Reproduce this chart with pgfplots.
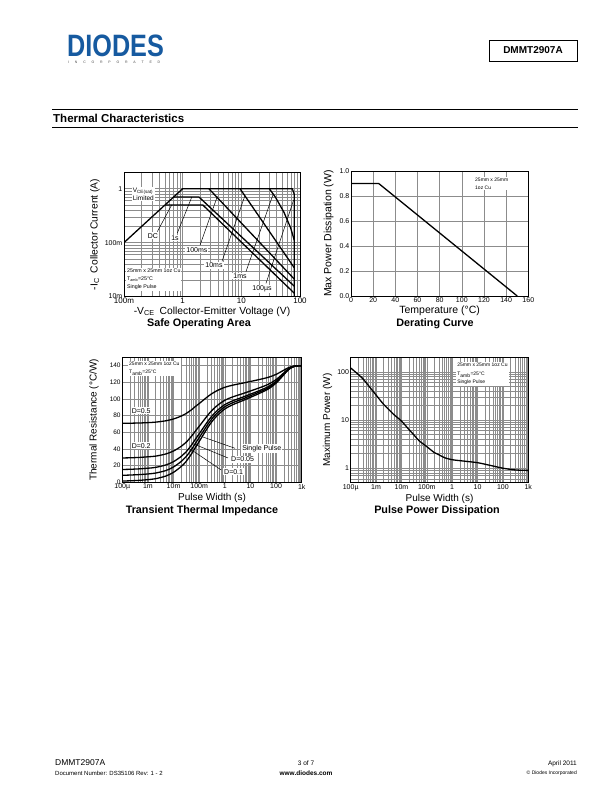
\documentclass[border=0pt]{standalone}
\usepackage{fontspec}
\setmainfont{Liberation Sans}
\usepackage{graphicx}
\usepackage{pgfplots}
\pgfplotsset{compat=1.18}
\definecolor{diodesblue}{RGB}{22,90,160}

\pgfplotsset{
  dsheet/.style={
    scale only axis,
    anchor=south west,
    axis line style={line width=0.9pt},
    major tick length=0pt, minor tick length=0pt,
    /pgf/number format/assume math mode=true,
    ticklabel style={font=\fontsize{7}{8}\selectfont, inner sep=1.5pt},
    label style={font=\fontsize{10}{11}\selectfont},
    major grid style={draw=black!45, line width=0.45pt},
    minor grid style={draw=black!45, line width=0.45pt},
  },
  logminorx/.style={minor xtick={2e-4,3e-4,4e-4,5e-4,6e-4,7e-4,8e-4,9e-4,2e-3,3e-3,4e-3,5e-3,6e-3,7e-3,8e-3,9e-3,0.02,0.03,0.04,0.05,0.06,0.07,0.08,0.09,0.2,0.3,0.4,0.5,0.6,0.7,0.8,0.9,2,3,4,5,6,7,8,9,20,30,40,50,60,70,80,90,200,300,400,500,600,700,800,900}},
}
\tikzset{
  curve/.style={line width=1.3pt, black, line join=round},
  ptr/.style={line width=0.5pt, black},
  lab/.style={fill=white, inner sep=1pt, font=\fontsize{7}{8}\selectfont},
  note/.style={fill=white, inner sep=1pt, align=left, font=\fontsize{5}{8}\selectfont},
}

\begin{document}
\begin{tikzpicture}[x=1pt,y=1pt]
\useasboundingbox[fill=white] (0,0) rectangle (612,792);

% ---------- header ----------
\node[anchor=south west, inner sep=0, text=diodesblue] at (67,735)
  {\scalebox{0.84}[1.03]{\fontsize{30}{30}\selectfont\bfseries DIODES}};
\node[anchor=base west, inner sep=0, text=black!70] at (68,728.5)
  {\fontsize{3.5}{4}\selectfont\makebox[92pt][s]{I N C O R P O R A T E D}};
\node[draw, line width=0.9pt, minimum width=88pt, minimum height=21pt, inner sep=0,
      font=\fontsize{10}{12}\selectfont\bfseries] at (533,741.5) {DMMT2907A};
\draw[line width=0.8pt] (52,683) -- (578,683);
\node[anchor=base west, inner sep=0, font=\fontsize{11.5}{12}\selectfont\bfseries] at (53,669.3) {Thermal Characteristics};
\draw[line width=0.8pt] (52,664.5) -- (578,664.5);

% ---------- footer ----------
\node[anchor=base west, inner sep=0, font=\fontsize{8.5}{9}\selectfont] at (55,26) {DMMT2907A};
\node[anchor=base west, inner sep=0, font=\fontsize{6}{7}\selectfont] at (55,16.5) {Document Number: DS35106 Rev: 1 - 2};
\node[anchor=base, inner sep=0, font=\fontsize{6.5}{7}\selectfont] at (306,26) {3 of 7};
\node[anchor=base, inner sep=0, font=\fontsize{6.5}{7}\selectfont\bfseries] at (306,16.5) {www.diodes.com};
\node[anchor=base east, inner sep=0, font=\fontsize{6.5}{7}\selectfont] at (577,26) {April 2011};
\node[anchor=base east, inner sep=0, font=\fontsize{5}{6}\selectfont] at (577,17) {© Diodes Incorporated};

% ---------- Safe Operating Area ----------
\begin{axis}[dsheet, at={(124pt,495.5pt)}, width=176pt, height=124pt,
  xmode=log, ymode=log, xmin=0.1, xmax=100, ymin=0.01, ymax=2,
  xtick={0.1,1,10,100}, xticklabels={100m,1,10,100},
  ytick={0.01,0.1,1}, yticklabels={10m,100m,1},
  xticklabel style={font=\fontsize{8}{9}\selectfont},
  minor xtick={0.2,0.3,0.4,0.5,0.6,0.7,0.8,0.9,2,3,4,5,6,7,8,9,20,30,40,50,60,70,80,90},
  minor ytick={0.02,0.03,0.04,0.05,0.06,0.07,0.08,0.09,0.2,0.3,0.4,0.5,0.6,0.7,0.8,0.9,2},
  grid=both,
  label style={font=\fontsize{10.3}{11}\selectfont},
  xlabel={-V\textsubscript{CE}\enspace Collector-Emitter Voltage (V)},
  xlabel style={yshift=2pt},
  ylabel={-I\textsubscript{C}\enspace Collector Current (A)},
]
\addplot[curve] coordinates {(0.1,0.1)(1,1)(74,1)(80,0.78)(80,0.01)};
\addplot[curve] coordinates {(0.5,0.5)(2.2,0.5)(80,0.0115)};
\addplot[curve] coordinates {(0.7,0.7)(1.9,0.7)(80,0.0155)};
\addplot[curve] coordinates {(2.8,1)(80,0.021)};
\addplot[curve] coordinates {(9.5,1)(80,0.034)};
\addplot[curve] coordinates {(30,1)(38,0.7)(53,0.37)(69,0.19)(80,0.11)};
\draw[ptr] (axis cs:0.37,0.16) -- (axis cs:0.65,0.5);
\draw[ptr] (axis cs:0.81,0.15) -- (axis cs:1.43,0.7);
\draw[ptr] (axis cs:1.98,0.09) -- (axis cs:3.9,0.72);
\draw[ptr] (axis cs:4.68,0.045) -- (axis cs:11.5,0.74);
\draw[ptr] (axis cs:12,0.029) -- (axis cs:35,0.8);
\draw[ptr] (axis cs:26.3,0.0175) -- (axis cs:78,0.62);
\node[lab, anchor=west, align=left, font=\fontsize{6.5}{8}\selectfont] at (axis cs:0.135,0.8) {V\textsubscript{CE(sat)}\\Limited};
\node[lab] at (axis cs:0.31,0.133) {DC};
\node[lab] at (axis cs:0.74,0.122) {1s};
\node[lab] at (axis cs:1.75,0.073) {100ms};
\node[lab] at (axis cs:3.42,0.038) {10ms};
\node[lab] at (axis cs:9.5,0.024) {1ms};
\node[lab] at (axis cs:22.5,0.0137) {100µs};
\node[note, anchor=north west, font=\fontsize{5.3}{8}\selectfont] at (axis cs:0.108,0.034) {25mm x 25mm 1oz Cu\\T\textsubscript{amb}=25°C\\Single Pulse};
\end{axis}
\node[font=\fontsize{10.8}{12}\selectfont\bfseries] at (199,468.5) {Safe Operating Area};

% ---------- Derating Curve ----------
\begin{axis}[dsheet, at={(351pt,496pt)}, width=177.3pt, height=125pt,
  xmin=0, xmax=160, ymin=0, ymax=1,
  xtick={0,20,40,60,80,100,120,140,160},
  ytick={0,0.2,0.4,0.6,0.8,1.0},
  yticklabel style={/pgf/number format/fixed, /pgf/number format/fixed zerofill, /pgf/number format/precision=1},
  grid=major,
  label style={font=\fontsize{10.5}{11}\selectfont},
  xlabel={Temperature (°C)},
  xlabel style={yshift=2pt},
  ylabel={Max Power Dissipation (W)}, ylabel shift=1pt,
]
\addplot[curve] coordinates {(0,0.9)(25,0.9)(150,0)};
\node[note, anchor=north west, font=\fontsize{5}{7.3}\selectfont] at (axis cs:111,0.95) {25mm x 25mm\\1oz Cu};
\end{axis}
\node[font=\fontsize{10.8}{12}\selectfont\bfseries] at (435,468.5) {Derating Curve};

% ---------- Transient Thermal Impedance ----------
\begin{axis}[dsheet, logminorx, at={(122.3pt,309.7pt)}, width=179.4pt, height=125pt,
  xmode=log, xmin=1e-4, xmax=1e3, ymin=0, ymax=150,
  xtick={1e-4,1e-3,1e-2,1e-1,1,10,100,1000},
  xticklabels={100µ,1m,10m,100m,1,10,100,1k},
  ytick={0,20,40,60,80,100,120,140},
  yticklabel style={font=\fontsize{6.5}{7}\selectfont},
  grid=both,
  xlabel={Pulse Width (s)},
  xlabel style={yshift=2pt},
  ylabel={Thermal Resistance (°C/W)}, ylabel shift=6pt,
]
% D=0.5
\addplot[curve, smooth] coordinates {(1e-4,70.8)(2e-4,70.9)(5e-4,71.2)(1e-3,71.6)(2e-3,72.2)(5e-3,73.8)(1e-2,76)(2e-2,79.5)(3e-2,82.3)(5e-2,87)(7e-2,90.8)(0.1,94.5)(0.2,102)(0.3,106)(0.5,110)(1,114)(2,116.5)(5,119)(10,121)(20,123)(50,126)(100,129.5)(200,134.5)(300,137.5)(500,139.5)(1000,140)};
% D=0.2
\addplot[curve, smooth] coordinates {(1e-4,29.2)(2e-4,29.4)(5e-4,29.9)(1e-3,30.6)(2e-3,31.4)(5e-3,34)(1e-2,37.6)(2e-2,43.2)(3e-2,47.6)(5e-2,55.2)(7e-2,61.2)(0.1,67.2)(0.2,79.2)(0.3,85.6)(0.5,92)(1,98.4)(2,102.4)(5,106.4)(10,109.6)(20,112.8)(50,117.6)(100,123.2)(200,131.2)(300,136)(500,139.2)(1000,140)};
% D=0.1
\addplot[curve, smooth] coordinates {(1e-4,15.4)(2e-4,15.6)(5e-4,16.2)(1e-3,16.9)(2e-3,17.9)(5e-3,20.8)(1e-2,24.8)(2e-2,31.1)(3e-2,36.1)(5e-2,44.6)(7e-2,51.4)(0.1,58.1)(0.2,71.6)(0.3,78.8)(0.5,86)(1,93.2)(2,97.7)(5,102.2)(10,105.8)(20,109.4)(50,114.8)(100,121.1)(200,130.1)(300,135.5)(500,139.1)(1000,140)};
% D=0.05
\addplot[curve, smooth] coordinates {(1e-4,8.4)(2e-4,8.7)(5e-4,9.3)(1e-3,10)(2e-3,11.1)(5e-3,14.1)(1e-2,18.4)(2e-2,25.1)(3e-2,30.3)(5e-2,39.3)(7e-2,46.4)(0.1,53.6)(0.2,67.8)(0.3,75.4)(0.5,83)(1,90.6)(2,95.4)(5,100.1)(10,103.9)(20,107.7)(50,113.4)(100,120.1)(200,129.6)(300,135.3)(500,139.1)(1000,140)};
% Single pulse
\addplot[curve, smooth] coordinates {(1e-4,1.5)(2e-4,1.8)(5e-4,2.4)(1e-3,3.2)(2e-3,4.3)(5e-3,7.5)(1e-2,12)(2e-2,19)(3e-2,24.5)(5e-2,34)(7e-2,41.5)(0.1,49)(0.2,64)(0.3,72)(0.5,80)(1,88)(2,93)(5,98)(10,102)(20,106)(50,112)(100,119)(200,129)(300,135)(500,139)(1000,140)};
\draw[ptr] (axis cs:2.5,40.8) -- (axis cs:0.13,54.7);
\draw[ptr] (axis cs:1.33,29.2) -- (axis cs:0.067,45.5);
\draw[ptr] (axis cs:0.72,14.8) -- (axis cs:0.04,40.9);
\node[note, anchor=north west] at (axis cs:1.67e-4,146) {25mm x 25mm 1oz Cu\\T\textsubscript{amb}=25°C};
\node[lab, anchor=west] at (axis cs:2.1e-4,86) {D=0.5};
\node[lab, anchor=west] at (axis cs:2.1e-4,44) {D=0.2};
\node[lab, anchor=west] at (axis cs:4.3,40.8) {Single Pulse};
\node[lab, anchor=west] at (axis cs:1.6,27.6) {D=0.05};
\node[lab, anchor=west] at (axis cs:0.85,12.7) {D=0.1};
\end{axis}
\node[font=\fontsize{10.8}{12}\selectfont\bfseries] at (202,281) {Transient Thermal Impedance};

% ---------- Pulse Power Dissipation ----------
\begin{axis}[dsheet, logminorx, at={(350.7pt,309.3pt)}, width=177.6pt, height=125.4pt,
  xmode=log, ymode=log, xmin=1e-4, xmax=1e3, ymin=0.5, ymax=200,
  xtick={1e-4,1e-3,1e-2,1e-1,1,10,100,1000},
  xticklabels={100µ,1m,10m,100m,1,10,100,1k},
  ytick={1,10,100}, yticklabels={1,10,100},
  minor ytick={0.6,0.7,0.8,0.9,2,3,4,5,6,7,8,9,20,30,40,50,60,70,80,90},
  grid=both,
  xlabel={Pulse Width (s)},
  xlabel style={yshift=2pt},
  ylabel={Maximum Power (W)},
]
\addplot[curve, smooth] coordinates {(1e-4,120)(2e-4,88)(3e-4,72)(5e-4,52)(1e-3,33)(2e-3,21)(3e-3,17)(5e-3,13)(1e-2,9.5)(2e-2,6.3)(3e-2,5)(5e-2,3.7)(0.1,2.8)(0.2,2.1)(0.3,1.9)(0.5,1.65)(1,1.5)(3,1.4)(10,1.3)(30,1.15)(100,1.0)(300,0.92)(1000,0.9)};
\node[note, anchor=north west, font=\fontsize{5}{8.5}\selectfont] at (axis cs:1.42,160) {25mm x 25mm 1oz Cu\\T\textsubscript{amb}=25°C\\Single Pulse};
\end{axis}
\node[font=\fontsize{10.8}{12}\selectfont\bfseries] at (437,281) {Pulse Power Dissipation};

\end{tikzpicture}
\end{document}
